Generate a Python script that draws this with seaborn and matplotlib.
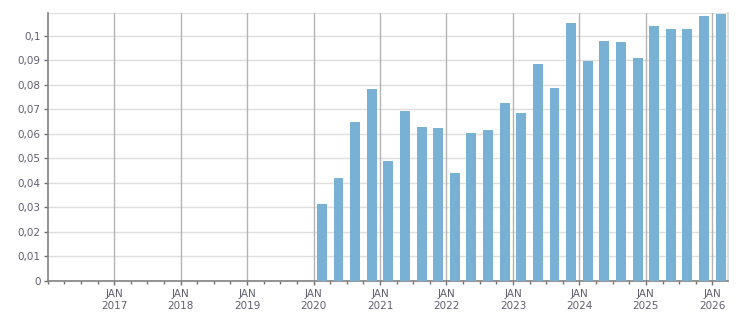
import numpy as np
import pandas as pd
import matplotlib
matplotlib.use('Agg')
import matplotlib.pyplot as plt
from matplotlib.ticker import FixedLocator, FuncFormatter
import seaborn as sns

# quarterly values, Q1 2020 .. Q1 2026
years = [2020] * 4 + [2021] * 4 + [2022] * 4 + [2023] * 4 + [2024] * 4 + [2025] * 4 + [2026]
quarters = [1, 2, 3, 4] * 6 + [1]
values = [0.0312, 0.0418, 0.0647, 0.0782,
          0.0488, 0.0692, 0.0627, 0.0622,
          0.0439, 0.0602, 0.0614, 0.0724,
          0.0684, 0.0884, 0.0786, 0.1051,
          0.0896, 0.0978, 0.0973, 0.0908,
          0.1039, 0.1027, 0.1027, 0.1080,
          0.1088]
year_ticks = list(range(2017, 2027))
y_ticks = [0, 0.01, 0.02, 0.03, 0.04, 0.05, 0.06, 0.07, 0.08, 0.09, 0.1]

df = pd.DataFrame({'year': years, 'quarter': quarters, 'value': values})
# bar centred in the middle of its quarter
df['pos'] = df['year'] + (df['quarter'] - 1) / 4 + 0.125

sns.set_theme(style='white')
plt.rcParams['font.family'] = ['DejaVu Sans']

text_col = '#5f5f70'
fig = plt.figure(figsize=(7.51, 3.13), dpi=100)
ax = fig.add_axes([0.0635, 0.1038, 0.9063, 0.8545])

sns.barplot(data=df, x='pos', y='value', native_scale=True, width=0.6,
            color='#78b1d3', saturation=1, linewidth=0, edgecolor='none',
            ax=ax, zorder=3)

ax.set_xlim(2016, 2026.24)
ax.set_ylim(0, 0.1092)

# grid
for yv in y_ticks[1:]:
    ax.axhline(yv, color='#dedede', lw=1, zorder=1)
ax.axhline(0.1092, color='#dedede', lw=1.5, zorder=1)
for xv in year_ticks:
    ax.axvline(xv, color='#b4b4b4', lw=1, zorder=2)

ax.xaxis.set_major_locator(FixedLocator(year_ticks))
ax.set_xticklabels([f'JAN\n{y}' for y in year_ticks])
ax.xaxis.set_minor_locator(FixedLocator([y + q / 4 for y in range(2016, 2027) for q in range(4)]))
ax.yaxis.set_major_locator(FixedLocator(y_ticks))
ax.yaxis.set_major_formatter(FuncFormatter(
    lambda v, p: '0' if v == 0 else f'{v:.2f}'.rstrip('0').replace('.', ',')))

ax.tick_params(axis='both', which='major', direction='out', length=3, width=1,
               color='#707070', labelsize=7.5, labelcolor=text_col, pad=2,
               bottom=True, left=True)
ax.tick_params(axis='x', which='minor', direction='out', length=2, width=1,
               color='#707070', bottom=True)
ax.tick_params(axis='x', which='major', length=3, pad=3)
for lab in ax.get_xticklabels():
    lab.set_linespacing(1.3)

for side in ['left', 'bottom']:
    ax.spines[side].set_color('#808080')
    ax.spines[side].set_linewidth(1.2)
ax.spines['top'].set_visible(False)
ax.spines['right'].set_color('#dedede')
ax.spines['right'].set_linewidth(1.5)

ax.set_xlabel('')
ax.set_ylabel('')

fig.savefig('out.png', dpi=100, facecolor='white')
